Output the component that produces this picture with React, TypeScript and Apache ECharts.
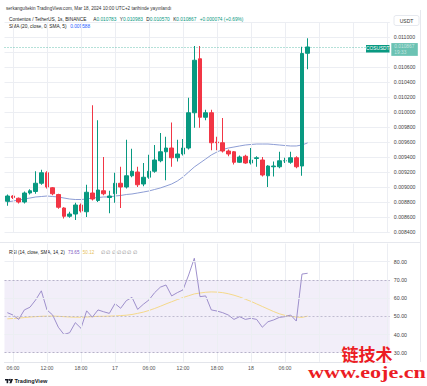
import React, { useEffect, useRef } from 'react';
import * as echarts from 'echarts';

// ---------- data ----------
const startDay = 16;
const startHour = 5;
const slotCount = 68; // Mar 16 05:00 .. Mar 19 00:00 (1h candles, empty future slots)
const lastCandleSlot = 53;
const categories: string[] = [];
for (let i = 0; i < slotCount; i++) {
  const t = startHour + i;
  const d = startDay + Math.floor(t / 24);
  const h = t % 24;
  categories.push(`${d} ${String(h).padStart(2, '0')}:00`);
}

// [open, close, low, high]
const candles: number[][] = [
  [0.00881, 0.00888, 0.00875, 0.0089],
  [0.00888, 0.00886, 0.00884, 0.00889],
  [0.00885, 0.0088, 0.00878, 0.00886],
  [0.0088, 0.00892, 0.00878, 0.00894],
  [0.00892, 0.00895, 0.0089, 0.00897],
  [0.00894, 0.00905, 0.00891, 0.00921],
  [0.00905, 0.00919, 0.00903, 0.00923],
  [0.00919, 0.009, 0.00898, 0.00921],
  [0.00899, 0.00891, 0.00889, 0.009],
  [0.0089, 0.00873, 0.00871, 0.00891],
  [0.00872, 0.00861, 0.00858, 0.00873],
  [0.00861, 0.00864, 0.00859, 0.00867],
  [0.00864, 0.00876, 0.00856, 0.00879],
  [0.00876, 0.00868, 0.00866, 0.00878],
  [0.00867, 0.00893, 0.0086, 0.00903],
  [0.00892, 0.00884, 0.00882, 0.01009],
  [0.00882, 0.00896, 0.0088, 0.00989],
  [0.00895, 0.00891, 0.00889, 0.0094],
  [0.00886, 0.00888, 0.00865, 0.00895],
  [0.00891, 0.00905, 0.00879, 0.00919],
  [0.00905, 0.009, 0.00872, 0.00927],
  [0.009, 0.00915, 0.00898, 0.00963],
  [0.00915, 0.00921, 0.00913, 0.00951],
  [0.0092, 0.00903, 0.009, 0.00927],
  [0.00904, 0.00913, 0.00901, 0.00932],
  [0.00913, 0.00921, 0.00911, 0.00943],
  [0.00921, 0.00936, 0.00919, 0.00956],
  [0.00935, 0.00947, 0.00933, 0.00972],
  [0.00947, 0.00952, 0.00909, 0.00967],
  [0.00952, 0.00939, 0.00927, 0.00986],
  [0.00939, 0.00944, 0.00934, 0.00963],
  [0.00944, 0.00952, 0.00942, 0.00964],
  [0.00952, 0.00999, 0.0095, 0.01019],
  [0.00999, 0.01069, 0.00979, 0.01088],
  [0.01071, 0.00993, 0.00979, 0.01088],
  [0.00993, 0.00999, 0.00989, 0.01003],
  [0.00999, 0.00959, 0.00949, 0.01003],
  [0.0096, 0.00959, 0.00949, 0.00967],
  [0.00959, 0.00948, 0.00946, 0.00992],
  [0.00948, 0.00944, 0.00941, 0.0095],
  [0.00947, 0.00933, 0.0093, 0.00948],
  [0.00933, 0.0094, 0.00932, 0.00942],
  [0.00941, 0.00932, 0.00931, 0.00943],
  [0.00932, 0.00936, 0.0093, 0.00952],
  [0.00938, 0.00939, 0.00927, 0.00941],
  [0.00936, 0.00916, 0.00914, 0.0094],
  [0.00915, 0.00928, 0.009, 0.00929],
  [0.00927, 0.00928, 0.00914, 0.00934],
  [0.00927, 0.00935, 0.00925, 0.00947],
  [0.00935, 0.00935, 0.00932, 0.00939],
  [0.00933, 0.00939, 0.00931, 0.00947],
  [0.00939, 0.00927, 0.00925, 0.00941],
  [0.00928, 0.01078, 0.00915, 0.01087],
  [0.010783, 0.010867, 0.01057, 0.010983],
];

const sma20: number[] = [
  0.0088, 0.008813, 0.008827, 0.00884, 0.008853, 0.008867, 0.008873, 0.00888, 0.008873, 0.008867,
  0.008853, 0.00884, 0.008833, 0.008833, 0.00884, 0.008853, 0.00886, 0.008867, 0.008867, 0.00888,
  0.008887, 0.0089, 0.008907, 0.00892, 0.008933, 0.008947, 0.008967, 0.008987, 0.009013, 0.00904,
  0.00908, 0.009133, 0.0092, 0.009267, 0.00932, 0.009373, 0.009427, 0.009467, 0.0095, 0.00952,
  0.009533, 0.009547, 0.00956, 0.009567, 0.009573, 0.009573, 0.009573, 0.009567, 0.00956, 0.009553,
  0.009547, 0.009547, 0.00956, 0.009588,
];

const rsi: number[] = [
  52, 50.7, 48.3, 53.5, 55, 59, 64, 53.5, 50.7, 44,
  40, 41, 46.5, 43.4, 53, 49.5, 53.5, 52.5, 51.6, 57,
  54.4, 58.6, 60.4, 53.8, 56.6, 59, 63, 66, 67.2, 61.2,
  63, 64.5, 72.7, 81.9, 60.8, 61.2, 53.5, 52.9, 52, 50.7,
  48.3, 49.8, 48.3, 48.9, 48.3, 44, 47, 48, 49.4, 49.8,
  50.7, 47.4, 73.2, 73.65,
];

const rsiMa: number[] = [
  48.6, 48.8, 49, 49.3, 49.6, 49.8, 50, 50.1, 50.1, 50,
  49.8, 49.6, 49.5, 49.5, 49.6, 49.8, 50, 50, 50.1, 50.2,
  50.4, 50.6, 51, 51.6, 52.3, 53.2, 54.3, 55.5, 56.8, 58,
  59.2, 60.3, 61.3, 62.3, 62.8, 63.2, 63.4, 63.3, 63, 62.4,
  61.6, 60.6, 59.4, 58.2, 56.8, 55.4, 54, 52.6, 51.4, 50.5,
  50, 49.6, 49.4, 50.1,
];

const priceTicks = { min: 0.0084, max: 0.0112, step: 0.0002 };
const rsiTicks = { min: 25, max: 90, step: 5, labelMin: 30, labelMax: 80 };
const lastPrice = 0.010867;
const countdown = '19:33';

// ---------- styles ----------
const UP = '#089981';
const DOWN = '#F23645';
const FONT = 'Liberation Sans';
const GRID_FAINT = '#eceef3';

const hourOf = (c: string) => parseInt(c.split(' ')[1], 10);
const xLabel = (val: string, idx: number) => {
  if (idx > lastCandleSlot + 1) return '';
  const [d, hm] = val.split(' ');
  const h = parseInt(hm, 10);
  if (h === 0) return d;
  if (h % 6 === 0) return hm;
  return '';
};
const vLines = categories
  .filter((c) => hourOf(c) % 6 === 0)
  .map((c) => ({ xAxis: c, label: { show: false }, lineStyle: { color: GRID_FAINT, type: 'solid', width: 1 } }));

const option: any = {
  animation: false,
  backgroundColor: '#ffffff',
  textStyle: { fontFamily: FONT },
  grid: [
    { left: 4.5, width: 385.3, top: 22, height: 210 },
    { left: 4.5, width: 385.3, top: 243.5, height: 118.3 },
  ],
  xAxis: [
    {
      type: 'category', gridIndex: 0, data: categories, boundaryGap: true,
      axisLine: { show: false }, axisTick: { show: false }, axisLabel: { show: false }, splitLine: { show: false },
    },
    {
      type: 'category', gridIndex: 1, data: categories, boundaryGap: true,
      axisLine: { show: true, lineStyle: { color: '#e3e5eb' } }, axisTick: { show: false },
      axisLabel: { interval: 0, formatter: xLabel, fontSize: 5.2, color: '#555', margin: 4, fontFamily: FONT },
      splitLine: { show: false },
    },
  ],
  yAxis: [
    {
      type: 'value', gridIndex: 0, position: 'right', min: priceTicks.min, max: priceTicks.max, interval: priceTicks.step,
      axisLine: { show: false }, axisTick: { show: false },
      splitLine: { show: true, lineStyle: { color: GRID_FAINT } },
      axisLabel: {
        formatter: (v: number) => (v > 0.01105 || Math.abs(v - 0.0108) < 0.00001 ? '' : v.toFixed(6)),
        fontSize: 5.2, color: '#444', margin: 4, fontFamily: FONT,
      },
    },
    {
      type: 'value', gridIndex: 1, position: 'right', min: rsiTicks.min, max: rsiTicks.max, interval: rsiTicks.step,
      axisLine: { show: false }, axisTick: { show: false }, splitLine: { show: false },
      axisLabel: {
        formatter: (v: number) => {
          const r = Math.round(v);
          return r % 10 === 0 && r >= rsiTicks.labelMin && r <= rsiTicks.labelMax ? r.toFixed(2) : '';
        },
        fontSize: 5.3, color: '#444', margin: 4, fontFamily: FONT,
      },
    },
  ],
  series: [
    {
      type: 'candlestick', xAxisIndex: 0, yAxisIndex: 0, data: candles, barWidth: 4,
      itemStyle: { color: UP, color0: DOWN, borderColor: UP, borderColor0: DOWN, borderWidth: 1 },
      markLine: {
        silent: true, symbol: 'none', animation: false,
        data: vLines,
      },
      z: 3,
    },
    {
      type: 'line', xAxisIndex: 0, yAxisIndex: 0, data: sma20, showSymbol: false, symbol: 'none',
      lineStyle: { color: '#8092cf', width: 0.9 }, z: 2,
      markLine: {
        silent: true, symbol: 'none', animation: false, precision: 6,
        data: [
          {
            yAxis: lastPrice,
            lineStyle: { color: UP, type: [1, 2], width: 1, opacity: 0.6 },
            label: {
              show: true, position: 'end', distance: 1.5, offset: [0, 2.5],
              formatter: `${lastPrice.toFixed(6)}\n${countdown}`,
              color: '#fff', backgroundColor: UP, fontSize: 4.8, lineHeight: 5.2,
              padding: [1.2, 3.5, 1.2, 3], fontFamily: FONT, align: 'left',
            },
          },
        ],
      },
    },
    {
      type: 'line', xAxisIndex: 1, yAxisIndex: 1, data: rsiMa, showSymbol: false, symbol: 'none',
      lineStyle: { color: '#f5d98a', width: 1 }, z: 3,
    },
    {
      type: 'line', xAxisIndex: 1, yAxisIndex: 1, data: rsi, showSymbol: false, symbol: 'none',
      lineStyle: { color: '#9484c6', width: 0.9 }, z: 4,
      markArea: {
        silent: true,
        itemStyle: { color: 'rgba(126,87,194,0.10)' },
        data: [[{ yAxis: 30 }, { yAxis: 70 }]],
      },
      markLine: {
        silent: true, symbol: 'none', animation: false,
        label: { show: false },
        data: [
          ...vLines,
          { yAxis: 80, lineStyle: { color: GRID_FAINT, type: 'solid', width: 1 } },
          { yAxis: 60, lineStyle: { color: GRID_FAINT, type: 'solid', width: 1 } },
          { yAxis: 40, lineStyle: { color: GRID_FAINT, type: 'solid', width: 1 } },
          { yAxis: 70, lineStyle: { color: '#a7a2bd', type: [2, 2], width: 0.8 } },
          { yAxis: 50, lineStyle: { color: '#b3aec6', type: [2, 2], width: 0.8 } },
          { yAxis: 30, lineStyle: { color: '#a7a2bd', type: [2, 2], width: 0.8 } },
        ],
      },
    },
  ],
  graphic: [
    // frame lines
    { type: 'line', shape: { x1: 0, y1: 242.5, x2: 421, y2: 242.5 }, style: { stroke: '#e6e8ee', lineWidth: 1 }, silent: true },
    { type: 'line', shape: { x1: 420.5, y1: 10, x2: 420.5, y2: 362 }, style: { stroke: '#e6e8ee', lineWidth: 1 }, silent: true },
    // header
    {
      type: 'text', x: 6, y: 8.5, silent: true,
      style: {
        text: 'serkangultekin TradingView.com, Mar 18, 2024 10:00 UTC+2 tarihinde yayınlandı',
        fontSize: 4.6, fontFamily: FONT, fill: '#333', verticalAlign: 'middle', align: 'left',
      },
    },
    {
      type: 'text', x: 9, y: 19.5, silent: true,
      style: {
        text: '{n|Contentos / TetherUS, 1s, BINANCE}  {l|A}{v|0.010783} {l|Y}{v|0.010983} {l|D}{v|0.010570} {l|K}{v|0.010867} {v|+0.000074 (+0.69%)}',
        verticalAlign: 'middle', align: 'left',
        rich: {
          n: { fontSize: 4.8, fontFamily: FONT, fill: '#222' },
          l: { fontSize: 4.8, fontFamily: FONT, fill: '#222' },
          v: { fontSize: 4.8, fontFamily: FONT, fill: UP },
        },
      },
    },
    {
      type: 'text', x: 9, y: 26.5, silent: true,
      style: {
        text: '{n|SMA (20, close, 0, SMA, 5)} {v|0.009588}',
        verticalAlign: 'middle', align: 'left',
        rich: {
          n: { fontSize: 4.8, fontFamily: FONT, fill: '#222' },
          v: { fontSize: 4.8, fontFamily: FONT, fill: '#2962FF' },
        },
      },
    },
    {
      type: 'text', x: 9, y: 252, silent: true,
      style: {
        text: '{n|RSI (14, close, SMA, 14, 2)} {p|73.65} {y|50.12}  {g|∅ ∅ ∅ ∅ ∅ ∅ ∅}',
        verticalAlign: 'middle', align: 'left',
        rich: {
          n: { fontSize: 4.6, fontFamily: FONT, fill: '#222' },
          p: { fontSize: 4.6, fontFamily: FONT, fill: '#7E57C2' },
          y: { fontSize: 4.6, fontFamily: FONT, fill: '#e8c25a' },
          g: { fontSize: 4.6, fontFamily: FONT, fill: '#888' },
        },
      },
    },
    // USDT box
    { type: 'rect', shape: { x: 394, y: 15.5, width: 25, height: 10, r: 2 }, style: { fill: '#fff', stroke: '#e0e3eb', lineWidth: 0.8 }, silent: true },
    { type: 'text', x: 406.5, y: 20.5, silent: true, style: { text: 'USDT', fontSize: 5, fontFamily: FONT, fill: '#333', align: 'center', verticalAlign: 'middle' } },
    // symbol tag
    { type: 'rect', shape: { x: 366, y: 45, width: 23.5, height: 7.5 }, style: { fill: UP }, silent: true, z: 10 },
    { type: 'text', x: 377.75, y: 48.9, silent: true, z: 11, style: { text: 'COSUSDT', fontSize: 4.8, fontFamily: FONT, fill: '#fff', align: 'center', verticalAlign: 'middle' } },
    // TradingView logo
    { type: 'rect', shape: { x: 5, y: 379, width: 3.6, height: 1.5 }, style: { fill: '#131722' }, silent: true },
    { type: 'rect', shape: { x: 6.6, y: 379, width: 1.6, height: 4.2 }, style: { fill: '#131722' }, silent: true },
    { type: 'circle', shape: { cx: 9.8, cy: 379.9, r: 0.9 }, style: { fill: '#131722' }, silent: true },
    { type: 'polygon', shape: { points: [[11, 379], [13, 379], [11.4, 383.2], [9.4, 383.2]] }, style: { fill: '#131722' }, silent: true },
    { type: 'text', x: 14.5, y: 381.2, silent: true, style: { text: 'TradingView', fontSize: 5.6, fontWeight: 'bold', fontFamily: FONT, fill: '#131722', verticalAlign: 'middle', align: 'left' } },
    // watermark
    {
      type: 'text', x: 367, y: 353.5, z: 20, silent: true,
      style: { text: '链技术', fontSize: 17, fontWeight: 'bold', fontFamily: 'Noto Sans CJK SC', fill: '#ec1c24', align: 'center', verticalAlign: 'middle' },
    },
    {
      type: 'text', x: 367, y: 372, z: 20, silent: true, scaleX: 1.3,
      style: { text: 'www.eoje.cn', fontSize: 17, fontWeight: 'bold', fontFamily: 'Liberation Sans Narrow', fill: '#ec1c24', align: 'center', verticalAlign: 'middle' },
    },
  ],
};

export default function App() {
  const ref = useRef<HTMLDivElement>(null);
  useEffect(() => {
    if (!ref.current) return;
    const chart = echarts.init(ref.current, null, { renderer: 'svg' });
    chart.setOption(option);
    return () => chart.dispose();
  }, []);
  return <div ref={ref} style={{ position: 'fixed', left: 0, top: 0, width: 427, height: 386 }} />;
}
